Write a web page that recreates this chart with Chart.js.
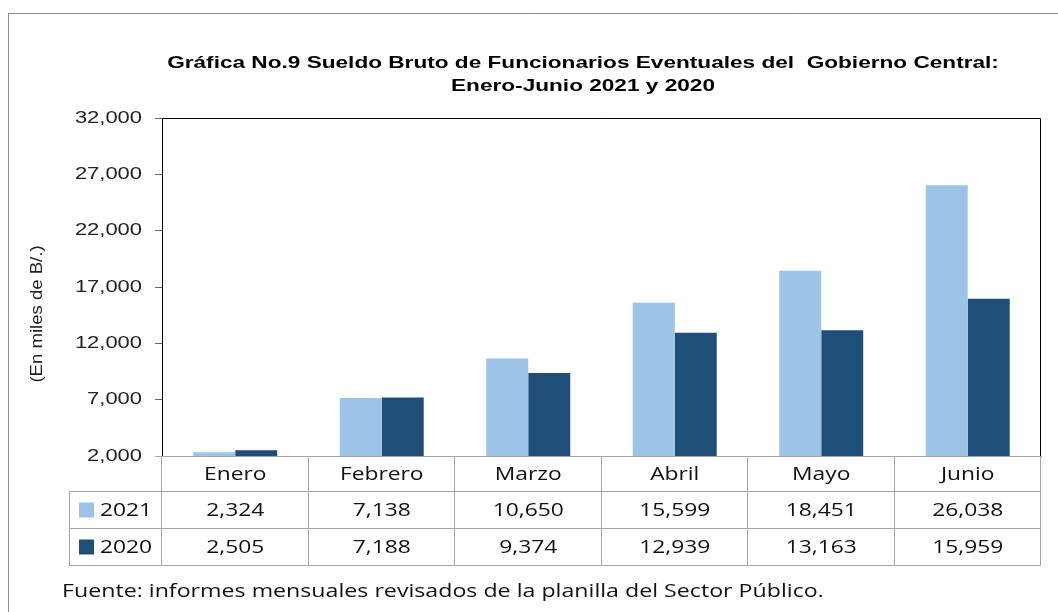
<!DOCTYPE html>
<html>
<head>
<meta charset="utf-8">
<script src="https://cdn.jsdelivr.net/npm/chart.js@4.4.0/dist/chart.umd.min.js"></script>
<style>
  html, body { margin: 0; padding: 0; background: #fff; }
  #wrap { width: 1058px; height: 612px; position: relative; }
</style>
</head>
<body>
<div id="wrap"><canvas id="chart" width="1058" height="612"></canvas></div>
<script>
const months = ['Enero', 'Febrero', 'Marzo', 'Abril', 'Mayo', 'Junio'];
const values2021 = [2324, 7138, 10650, 15599, 18451, 26038];
const values2020 = [2505, 7188, 9374, 12939, 13163, 15959];
const yTicks = [2000, 7000, 12000, 17000, 22000, 27000, 32000];

const light = '#9dc3e6';
const dark = '#1f4e79';
const gridGray = '#a6a6a6';

const fmt = v => v.toLocaleString('en-US');

// the original text is a bit wide, so draw it stretched horizontally
function wideText(ctx, text, x, y, sx, align) {
    ctx.save();
    ctx.translate(x, y);
    ctx.scale(sx, 1);
    ctx.textAlign = align || 'center';
    ctx.fillText(text, 0, 0);
    ctx.restore();
}

// draws title, frame, y labels, data table and source note
const tablePlugin = {
    id: 'dataTable',
    afterDraw(chart) {
        const ctx = chart.ctx;
        const area = chart.chartArea;
        const x = chart.scales.x;
        const y = chart.scales.y;
        ctx.save();
        ctx.textBaseline = 'middle';

        // outer frame
        ctx.strokeStyle = '#8c8c8c';
        ctx.lineWidth = 1;
        ctx.beginPath();
        ctx.moveTo(8.5, 612);
        ctx.lineTo(8.5, 13.5);
        ctx.lineTo(1058, 13.5);
        ctx.stroke();

        // plot box top/right
        ctx.strokeStyle = '#000';
        ctx.beginPath();
        ctx.moveTo(area.left, area.top + 0.5);
        ctx.lineTo(area.right - 0.5, area.top + 0.5);
        ctx.lineTo(area.right - 0.5, area.bottom);
        ctx.stroke();

        // title
        ctx.fillStyle = '#000';
        ctx.font = 'bold 17px "Liberation Sans", Arial, sans-serif';
        wideText(ctx, 'Gráfica No.9 Sueldo Bruto de Funcionarios Eventuales del  Gobierno Central:', 583, 63, 1.33);
        wideText(ctx, 'Enero-Junio 2021 y 2020', 583, 86, 1.33);

        // y tick labels
        ctx.font = '17px "Liberation Sans", Arial, sans-serif';
        ctx.fillStyle = '#222';
        yTicks.forEach(v => {
            wideText(ctx, fmt(v), 142, y.getPixelForValue(v), 1.29, 'right');
        });

        // y axis title
        ctx.save();
        ctx.translate(38, 314);
        ctx.rotate(-Math.PI / 2);
        ctx.font = '16px "Liberation Sans", Arial, sans-serif';
        wideText(ctx, '(En miles de B/.)', 0, 0, 1.16);
        ctx.restore();

        // table
        const rowH = [area.bottom, 491, 528, 565];
        const leftHead = 69;
        const colW = (area.right - area.left) / months.length;
        ctx.strokeStyle = gridGray;
        ctx.beginPath();
        ctx.moveTo(155, rowH[0] + 0.5); ctx.lineTo(area.right, rowH[0] + 0.5);
        for (let r = 1; r < 4; r++) {
            ctx.moveTo(leftHead, rowH[r] + 0.5); ctx.lineTo(area.right, rowH[r] + 0.5);
        }
        ctx.moveTo(leftHead + 0.5, rowH[1]); ctx.lineTo(leftHead + 0.5, rowH[3]);
        for (let i = 0; i <= months.length; i++) {
            const px = Math.round(area.left + i * colW) - 0.5;
            ctx.moveTo(px, rowH[0]); ctx.lineTo(px, rowH[3]);
        }
        ctx.stroke();

        ctx.font = '19px "Open Sans", "Noto Sans", sans-serif';
        ctx.fillStyle = '#111';
        months.forEach((m, i) => {
            const cx = x.getPixelForValue(i);
            wideText(ctx, m, cx, (rowH[0] + rowH[1]) / 2 + 1, 1.2);
            wideText(ctx, fmt(values2021[i]), cx, (rowH[1] + rowH[2]) / 2 + 1, 1.2);
            wideText(ctx, fmt(values2020[i]), cx, (rowH[2] + rowH[3]) / 2 + 1, 1.2);
        });

        // legend keys in row header
        const series = [['2021', light], ['2020', dark]];
        series.forEach((s, k) => {
            const cy = (rowH[k + 1] + rowH[k + 2]) / 2;
            ctx.fillStyle = s[1];
            ctx.fillRect(79, cy - 7, 15, 15);
            ctx.fillStyle = '#111';
            wideText(ctx, s[0], 100, cy + 1, 1.2, 'left');
        });

        // source
        ctx.font = '19px "Open Sans", "Noto Sans", sans-serif';
        wideText(ctx, 'Fuente: informes mensuales revisados de la planilla del Sector Público.', 62, 592, 1.22, 'left');

        ctx.restore();
    }
};

new Chart(document.getElementById('chart'), {
    type: 'bar',
    data: {
        labels: months,
        datasets: [
            { label: '2021', data: values2021, backgroundColor: light, barPercentage: 1, categoryPercentage: 0.573 },
            { label: '2020', data: values2020, backgroundColor: dark, barPercentage: 1, categoryPercentage: 0.573 }
        ]
    },
    options: {
        responsive: false,
        animation: false,
        layout: { padding: { left: 0, top: 118, right: 17, bottom: 156 } },
        plugins: { legend: { display: false }, title: { display: false }, tooltip: { enabled: false } },
        scales: {
            x: {
                display: true,
                ticks: { display: false },
                grid: { display: false },
                border: { display: true, color: gridGray },
                afterFit: s => { s.height = 0; }
            },
            y: {
                min: 2000,
                max: 32000,
                afterBuildTicks: s => { s.ticks = yTicks.map(v => ({ value: v })); },
                afterFit: s => { s.width = 162; },
                ticks: { display: false },
                grid: { drawOnChartArea: false, tickLength: 7, color: '#666' },
                border: { color: '#000' }
            }
        }
    },
    plugins: [tablePlugin]
});
</script>
</body>
</html>
